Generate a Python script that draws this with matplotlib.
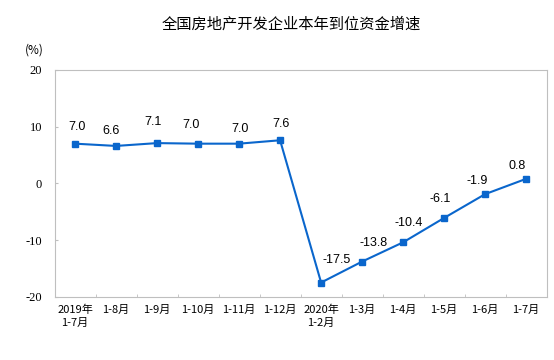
import matplotlib
matplotlib.use("Agg")
import matplotlib.pyplot as plt
import numpy as np

plt.rcParams['font.family'] = ['Noto Sans CJK SC', 'DejaVu Sans']

categories = ["2019年\n1-7月", "1-8月", "1-9月", "1-10月", "1-11月", "1-12月",
              "2020年\n1-2月", "1-3月", "1-4月", "1-5月", "1-6月", "1-7月"]
values = [7.0, 6.6, 7.1, 7.0, 7.0, 7.6, -17.5, -13.8, -10.4, -6.1, -1.9, 0.8]
yticks = [-20, -10, 0, 10, 20]
# where each value label sits relative to its point (pixels)
label_offsets = [(2, 17), (-5, 15), (-4, 21), (-7, 19), (1, 15), (1, 16),
                 (16, 23), (11, 19), (6, 19), (-4, 19), (-8, 13), (-9, 13)]

color = "#0a66cc"
grey = "#bfbfbf"

fig = plt.figure(figsize=(5.54, 3.6), dpi=100)
ax = fig.add_axes([0.0984, 0.1758, 0.8884, 0.6298])

x = np.arange(len(values))
ax.plot(x, values, color=color, lw=1.5, marker="s", markersize=4, zorder=3)

for xi, v, off in zip(x, values, label_offsets):
    ax.annotate(f"{v:.1f}", (xi, v), xytext=off, textcoords="offset pixels",
                ha="center", va="center", fontsize=9,
                family=["Liberation Sans", "DejaVu Sans"])

ax.set_xlim(-0.5, len(values) - 0.5)
ax.set_ylim(-20, 20)
ax.set_yticks(yticks)
ax.set_yticklabels([str(t) for t in yticks], family=["Liberation Serif"], fontsize=9)
ax.tick_params(axis="y", length=2.5, direction="in", color=grey, pad=9)

ax.set_xticks(x)
ax.set_xticklabels(categories, fontsize=8, linespacing=1.35)
ax.tick_params(axis="x", which="major", length=0, pad=6)
ax.set_xticks(np.arange(len(values) + 1) - 0.5, minor=True)
ax.tick_params(axis="x", which="minor", length=2.5, direction="in", color=grey)

for s in ax.spines.values():
    s.set_color(grey)
    s.set_linewidth(0.8)

fig.text(0.5265, 0.9325, "全国房地产开发企业本年到位资金增速", ha="center", va="center", fontsize=11)
fig.text(0.0614, 0.861, "(%)", ha="center", va="center", fontsize=8.5)

fig.savefig("out.png", dpi=100)
